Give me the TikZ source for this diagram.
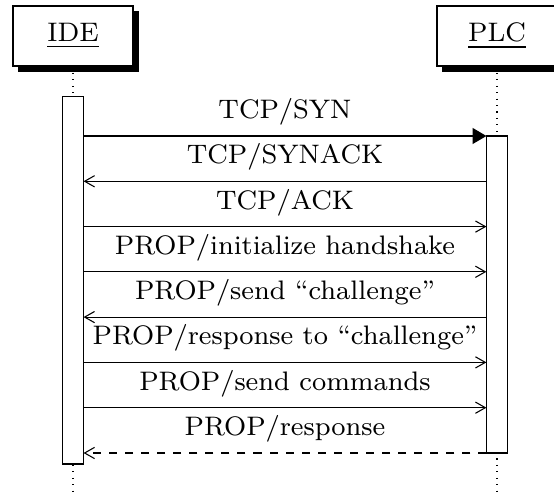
\documentclass[tikz,border=0pt]{standalone}
\usetikzlibrary{arrows.meta,shadows}
\begin{document}
\begin{tikzpicture}[x=0.3735pt,y=-0.3735pt,
  obj/.style={draw, fill=white, minimum width=44.8pt, minimum height=22.4pt, inner sep=0pt,
    copy shadow={shadow xshift=2.2pt, shadow yshift=-2.2pt, fill=black, draw=black}},
  objtext/.style={inner sep=0pt, scale=1.25, font=\fontsize{8}{9.6}\selectfont},
  actbar/.style={draw, fill=white, minimum width=7.5pt, inner sep=0pt},
  life/.style={dotted},
  msg/.style={-{Straight Barb[length=3.7pt,width=4.2pt]}},
  callmsg/.style={-{Triangle[length=5.2pt,width=6pt]}},
  retmsg/.style={dashed,-{Straight Barb[length=3.7pt,width=4.2pt]}},
  lbl/.style={anchor=base, inner sep=0pt, scale=1.25, font=\fontsize{8}{9.6}\selectfont}]
\useasboundingbox (0,0) rectangle (554,495);
\clip (0,0) rectangle (554,495);
% objects
\node[obj] (ide) at (73,36) {};
\node[objtext] (idet) at (ide.center) {\underline{IDE}};
\node[obj] (plc) at (497,36) {};
\node[objtext] (plct) at (plc.center) {\underline{PLC}};
\coordinate (bot) at (0,495);
% lifelines
\draw[life] (ide.south) -- (ide.south |- bot);
\draw[life] (plc.south) -- (plc.south |- bot);
% activation bars
\node[actbar, minimum height=137.1pt] (idebar) at (73,280.5) {};
\node[actbar, minimum height=118.4pt] (plcbar) at (497,294.5) {};
% message rows
\coordinate (m1) at (285,136);
\coordinate (m2) at (285,181.3);
\coordinate (m3) at (285,226.6);
\coordinate (m4) at (285,271.8);
\coordinate (m5) at (285,317.1);
\coordinate (m6) at (285,362.4);
\coordinate (m7) at (285,407.7);
\coordinate (m8) at (285,453);
\draw[callmsg] (idebar.east |- m1) -- (plcbar.west |- m1);
\node[lbl] (l1) at ([yshift=6.5pt]m1) {TCP/SYN};
\draw[msg] (plcbar.west |- m2) -- (idebar.east |- m2);
\node[lbl] (l2) at ([yshift=6.5pt]m2) {TCP/SYNACK};
\draw[msg] (idebar.east |- m3) -- (plcbar.west |- m3);
\node[lbl] (l3) at ([yshift=6.5pt]m3) {TCP/ACK};
\draw[msg] (idebar.east |- m4) -- (plcbar.west |- m4);
\node[lbl] (l4) at ([yshift=6.5pt]m4) {PROP/initialize handshake};
\draw[msg] (plcbar.west |- m5) -- (idebar.east |- m5);
\node[lbl] (l5) at ([yshift=6.5pt]m5) {PROP/send ``challenge''};
\draw[msg] (idebar.east |- m6) -- (plcbar.west |- m6);
\node[lbl] (l6) at ([yshift=6.5pt]m6) {PROP/response to ``challenge''};
\draw[msg] (idebar.east |- m7) -- (plcbar.west |- m7);
\node[lbl] (l7) at ([yshift=6.5pt]m7) {PROP/send commands};
\draw[retmsg] (plcbar.west |- m8) -- (idebar.east |- m8);
\node[lbl] (l8) at ([yshift=6.5pt]m8) {PROP/response};
\end{tikzpicture}
\end{document}
